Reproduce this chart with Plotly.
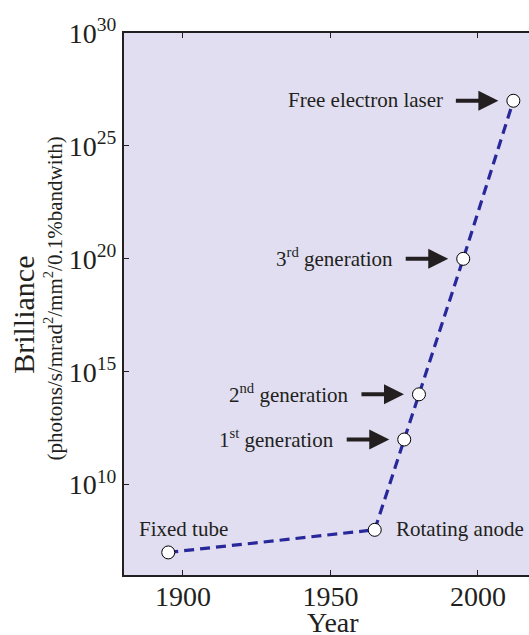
import math
import plotly.graph_objects as go

years = [1895, 1965, 1975, 1980, 1995, 2012]
brilliance = [1e7, 1e8, 1e12, 1e14, 1e20, 1e27]
labels = ["Fixed tube", "Rotating anode", "1<sup>st</sup> generation",
          "2<sup>nd</sup> generation", "3<sup>rd</sup> generation", "Free electron laser"]
ytick_vals = [1e10, 1e15, 1e20, 1e25, 1e30]
ytick_text = ["10<sup>10</sup>", "10<sup>15</sup>", "10<sup>20</sup>", "10<sup>25</sup>", "10<sup>30</sup>"]
xtick_vals = [1900, 1950, 2000]

FONT = "Liberation Serif"
INK = "#231f20"
LBL = dict(family=FONT, size=21, color=INK)

fig = go.Figure()
fig.add_trace(go.Scatter(
    x=years, y=brilliance, mode="lines+markers",
    line=dict(color="rgb(40,40,155)", width=3.2, dash="10px,6px"),
    marker=dict(size=13, color="white", line=dict(color="black", width=1)),
    hoverinfo="skip", showlegend=False,
))

ann = []
# Arrowed labels (generations and FEL); annotation y on log axis is log10(value)
for i in range(2, 6):
    ly = math.log10(brilliance[i])
    ann.append(dict(x=years[i], y=ly, xref="x", yref="y",
                    text="", showarrow=True, ax=-59, ay=0, axref="pixel", ayref="pixel",
                    arrowhead=2, arrowsize=1.0, arrowwidth=4, arrowcolor=INK, standoff=15))
    ann.append(dict(x=years[i], y=ly, xref="x", yref="y",
                    text=labels[i], showarrow=False, xanchor="right", yanchor="middle",
                    xshift=-68, yshift=1, font=LBL))
# Fixed tube
ann.append(dict(x=years[0], y=math.log10(brilliance[0]), xref="x", yref="y", text=labels[0],
                showarrow=False, xanchor="center", yanchor="middle", xshift=15, yshift=23,
                font=LBL))
# Rotating anode
ann.append(dict(x=years[1], y=math.log10(brilliance[1]), xref="x", yref="y", text=labels[1],
                showarrow=False, xanchor="left", yanchor="middle", xshift=19, yshift=1,
                font=LBL))
# Y title
ann.append(dict(x=0, y=0.48, xref="paper", yref="paper", text="Brilliance",
                showarrow=False, textangle=-90, xanchor="center", yanchor="middle",
                xshift=-100, font=dict(family=FONT, size=30, color=INK)))
ann.append(dict(x=0, y=0.51, xref="paper", yref="paper",
                text="(photons/s/mrad<sup>2</sup>/mm<sup>2</sup>/0.1%bandwith)",
                showarrow=False, textangle=-90, xanchor="center", yanchor="middle",
                xshift=-70, font=dict(family=FONT, size=21, color=INK)))
# X title
ann.append(dict(x=0.5, y=0, xref="paper", yref="paper", text="Year",
                showarrow=False, xanchor="center", yanchor="middle",
                xshift=6, yshift=-47, font=dict(family=FONT, size=28, color=INK)))

fig.update_layout(
    width=529, height=635,
    margin=dict(l=124, r=0, t=33, b=60),
    paper_bgcolor="white", plot_bgcolor="#e0def0",
    annotations=ann,
    font=dict(family=FONT, color=INK),
)
fig.update_xaxes(range=[1880, 2017.3], tickvals=xtick_vals, ticks="inside", ticklen=5,
                 tickcolor=INK, tickwidth=1, showline=True, linecolor=INK, linewidth=2,
                 mirror="ticks", showgrid=False, zeroline=False, ticklabelstandoff=-5,
                 tickfont=dict(family=FONT, size=28, color=INK))
fig.update_yaxes(type="log", range=[6, 30], tickvals=ytick_vals, ticktext=ytick_text,
                 ticks="inside", ticklen=5, tickcolor=INK, tickwidth=1,
                 showline=True, linecolor=INK, linewidth=2, mirror=False,
                 showgrid=False, zeroline=False,
                 tickfont=dict(family=FONT, size=28, color=INK))

# remove the default 8px page margin so the figure fills the window exactly
fig.write_html("out.html", config={"displayModeBar": False},
               post_script="document.body.style.margin='0';")
